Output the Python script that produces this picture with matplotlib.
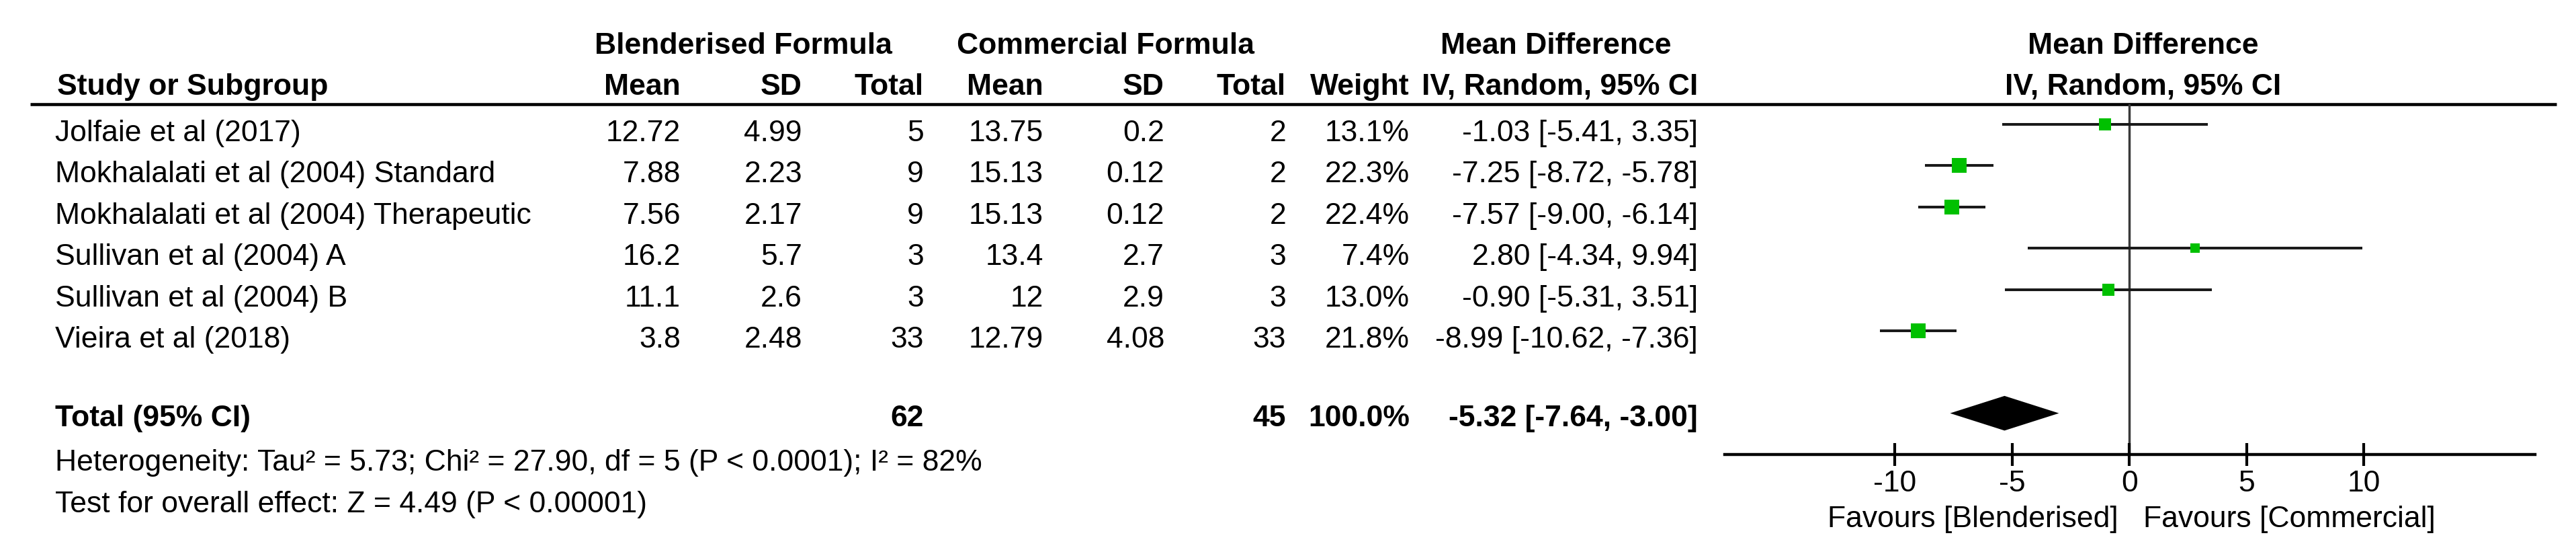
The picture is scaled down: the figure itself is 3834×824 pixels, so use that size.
import matplotlib
matplotlib.use("Agg")
import matplotlib.pyplot as plt
from matplotlib.lines import Line2D
import numpy as np

# ---------------- data ----------------
studies = ["Jolfaie et al (2017)",
           "Mokhalalati et al (2004) Standard",
           "Mokhalalati et al (2004) Therapeutic",
           "Sullivan et al (2004) A",
           "Sullivan et al (2004) B",
           "Vieira et al (2018)"]
blend_mean = [12.72, 7.88, 7.56, 16.2, 11.1, 3.8]
blend_sd = [4.99, 2.23, 2.17, 5.7, 2.6, 2.48]
blend_n = [5, 9, 9, 3, 3, 33]
comm_mean = [13.75, 15.13, 15.13, 13.4, 12, 12.79]
comm_sd = [0.2, 0.12, 0.12, 2.7, 2.9, 4.08]
comm_n = [2, 2, 2, 3, 3, 33]
weights = [13.1, 22.3, 22.4, 7.4, 13.0, 21.8]
md = [-1.03, -7.25, -7.57, 2.80, -0.90, -8.99]
ci_lo = [-5.41, -8.72, -9.00, -4.34, -5.31, -10.62]
ci_hi = [3.35, -5.78, -6.14, 9.94, 3.51, -7.36]
pooled = [-5.32, -7.64, -3.00]
total_blend = 62
total_comm = 45
total_weight = 100.0
xticks = [-10, -5, 0, 5, 10]
heterogeneity = "Heterogeneity: Tau\u00b2 = 5.73; Chi\u00b2 = 27.90, df = 5 (P < 0.0001); I\u00b2 = 82%"
overall = "Test for overall effect: Z = 4.49 (P < 0.00001)"
fav_left = "Favours [Blenderised]"
fav_right = "Favours [Commercial]"

# ---------------- layout ----------------
W, H = 3834, 824
FONT = "Liberation Sans"
FS = 32
fig = plt.figure(figsize=(W / 100, H / 100), dpi=100)
fig.patch.set_facecolor("white")

ov = fig.add_axes([0, 0, 1, 1])
ov.set_xlim(0, W)
ov.set_ylim(H, 0)
ov.axis("off")


def txt(x, y, s, ha="left", bold=False):
    ov.text(x, y, s, ha=ha, va="baseline", fontsize=FS, family=FONT,
            fontweight="bold" if bold else "normal", color="black")


# forest axes geometry (pixels)
AX_L, AX_R, AX_T, AX_B = 2567, 3773, 155, 676
YTOP, YBOT = -0.49, 8.0
ax = fig.add_axes([AX_L / W, (H - AX_B) / H, (AX_R - AX_L) / W, (AX_B - AX_T) / H])
ax.set_xlim(-17.25, 17.3)
ax.set_ylim(YBOT, YTOP)
ax.patch.set_alpha(0)


def row_px(r):
    return AX_T + (r - YTOP) * (AX_B - AX_T) / (YBOT - YTOP)


# headers
txt(1106, 80, "Blenderised Formula", ha="center", bold=True)
txt(1645, 80, "Commercial Formula", ha="center", bold=True)
txt(2316, 80, "Mean Difference", ha="center", bold=True)
txt(3190, 80, "Mean Difference", ha="center", bold=True)
txt(85, 141, "Study or Subgroup", bold=True)
cols = {"bm": 1013, "bs": 1194, "bn": 1375, "cm": 1553, "cs": 1733, "cn": 1914,
        "w": 2098, "ci": 2527}
for key, lab in [("bm", "Mean"), ("bs", "SD"), ("bn", "Total"), ("cm", "Mean"),
                 ("cs", "SD"), ("cn", "Total"), ("w", "Weight"),
                 ("ci", "IV, Random, 95% CI")]:
    txt(cols[key], 141, lab, ha="right", bold=True)
txt(3190, 141, "IV, Random, 95% CI", ha="center", bold=True)

ov.add_line(Line2D([45, 3805], [155, 155], color="black", lw=3.3,
                   solid_capstyle="butt"))

# study rows
rows = np.arange(len(studies))
for i, name in enumerate(studies):
    yb = row_px(i) + 25
    txt(82, yb, name)
    txt(cols["bm"], yb, f"{blend_mean[i]:g}", ha="right")
    txt(cols["bs"], yb, f"{blend_sd[i]:g}", ha="right")
    txt(cols["bn"], yb, f"{blend_n[i]}", ha="right")
    txt(cols["cm"], yb, f"{comm_mean[i]:g}", ha="right")
    txt(cols["cs"], yb, f"{comm_sd[i]:g}", ha="right")
    txt(cols["cn"], yb, f"{comm_n[i]}", ha="right")
    txt(cols["w"], yb, f"{weights[i]:.1f}%", ha="right")
    txt(cols["ci"], yb, f"{md[i]:.2f} [{ci_lo[i]:.2f}, {ci_hi[i]:.2f}]", ha="right")

# total row
TOT = 7
yb = row_px(TOT) + 19
txt(82, yb, "Total (95% CI)", bold=True)
txt(cols["bn"], yb, f"{total_blend}", ha="right", bold=True)
txt(cols["cn"], yb, f"{total_comm}", ha="right", bold=True)
txt(cols["w"], yb, f"{total_weight:.1f}%", ha="right", bold=True)
txt(cols["ci"], yb, f"{pooled[0]:.2f} [{pooled[1]:.2f}, {pooled[2]:.2f}]",
    ha="right", bold=True)
txt(82, 700, heterogeneity)
txt(82, 762, overall)

# ---------------- forest plot ----------------
ax.axvline(0, color="#3a3a3a", lw=2.5, zorder=1)
ax.hlines(rows, ci_lo, ci_hi, color="#1a1a1a", lw=2.9, zorder=2)
for i in rows:
    side_pt = 4.8 * np.sqrt(weights[i]) * 0.72
    ax.plot(md[i], i, marker="s", ms=side_pt, color="#00c000",
            markeredgewidth=0, linestyle="none", zorder=3)
dh = 0.42
ax.fill([pooled[1], pooled[0], pooled[2], pooled[0]],
        [TOT, TOT - dh, TOT, TOT + dh], color="black", zorder=3, lw=0)

for s in ["top", "left", "right"]:
    ax.spines[s].set_visible(False)
ax.spines["bottom"].set_linewidth(3.2)
ax.set_yticks([])
ax.set_xticks(xticks)
ax.set_xticklabels([f"{t}" for t in xticks], family=FONT, fontsize=FS)
ax.tick_params(axis="x", direction="inout", length=25, width=3.0, pad=4)

fav_y = -(784 - AX_B) / (AX_B - AX_T)
ax.annotate(fav_left, xy=(0, fav_y), xycoords=ax.get_xaxis_transform(),
            xytext=(-12, 0), textcoords="offset points", ha="right", va="baseline",
            fontsize=FS, family=FONT, annotation_clip=False)
ax.annotate(fav_right, xy=(0, fav_y), xycoords=ax.get_xaxis_transform(),
            xytext=(15, 0), textcoords="offset points", ha="left", va="baseline",
            fontsize=FS, family=FONT, annotation_clip=False)

fig.savefig("out.png", dpi=100, facecolor="white")
